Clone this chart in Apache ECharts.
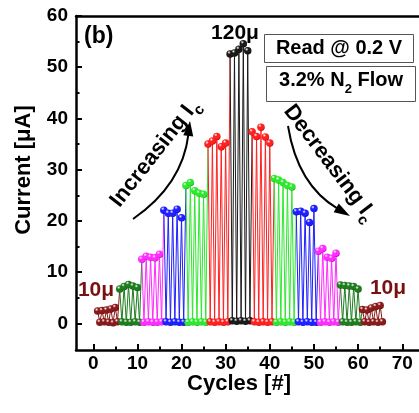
<!DOCTYPE html>
<html>
<head>
<meta charset="utf-8">
<script src="https://cdn.jsdelivr.net/npm/echarts@6/dist/echarts.min.js"></script>
<style>
  html, body { margin: 0; padding: 0; background: #fff; }
  #chart { width: 419px; height: 413px; }
</style>
</head>
<body>
<div id="chart"></div>
<script>
// Read current (uA) after SET (LRS) and after RESET (HRS), 5 cycles per compliance step
const groupColors = ['#8b1a1a', '#1e7d1e', '#ff2bff', '#1f1fff', '#2ee82e', '#ff2020', '#1a1a1a',
                     '#ff2020', '#2ee82e', '#1f1fff', '#ff2bff', '#1e7d1e', '#8b1a1a'];
const groupShades = ['#4a0505', '#0a400a', '#8a008a', '#000080', '#0a7a0a', '#900000', '#000000',
                     '#900000', '#0a7a0a', '#000080', '#8a008a', '#0a400a', '#4a0505'];

const lrs10uA_up   = [2.4, 2.5, 2.6, 2.8, 3.1];
const lrs20uA_up   = [6.7, 7.2, 7.6, 7.3, 7.0];
const lrs40uA_up   = [12.5, 13.1, 12.9, 12.8, 13.5];
const lrs60uA_up   = [22.1, 21.5, 21.5, 22.3, 20.6];
const lrs80uA_up   = [26.9, 27.5, 25.9, 25.4, 25.2];
const lrs100uA_up  = [35.0, 35.6, 36.5, 34.5, 35.2];
const lrs120uA     = [52.6, 52.8, 53.5, 54.6, 53.2];
const lrs100uA_dn  = [37.4, 36.5, 38.3, 36.4, 35.2];
const lrs80uA_dn   = [28.3, 28.0, 27.5, 26.9, 26.6];
const lrs60uA_dn   = [21.8, 21.9, 21.5, 19.7, 22.4];
const lrs40uA_dn   = [14.1, 14.6, 12.9, 12.7, 13.7];
const lrs20uA_dn   = [7.5, 7.4, 7.3, 7.2, 6.7];
const lrs10uA_dn   = [2.7, 2.6, 3.0, 3.3, 3.5];

const hrs10uA_up   = [0.2, 0.3, 0.2, 0.1, 0.3];
const hrs20uA_up   = [0.3, 0.2, 0.2, 0.3, 0.2];
const hrs40uA_up   = [0.2, 0.3, 0.2, 0.2, 0.3];
const hrs60uA_up   = [0.3, 0.2, 0.3, 0.2, 0.2];
const hrs80uA_up   = [0.2, 0.3, 0.2, 0.3, 0.2];
const hrs100uA_up  = [0.3, 0.2, 0.3, 0.2, 0.3];
const hrs120uA     = [0.5, 0.4, 0.5, 0.4, 0.5];
const hrs100uA_dn  = [0.3, 0.2, 0.3, 0.2, 0.3];
const hrs80uA_dn   = [0.2, 0.3, 0.2, 0.3, 0.2];
const hrs60uA_dn   = [0.3, 0.2, 0.3, 0.2, 0.2];
const hrs40uA_dn   = [0.2, 0.3, 0.2, 0.3, 0.2];
const hrs20uA_dn   = [0.3, 0.2, 0.2, 0.3, 0.2];
const hrs10uA_dn   = [0.3, 0.2, 0.3, 0.2, 0.3];

const lrsGroups = [lrs10uA_up, lrs20uA_up, lrs40uA_up, lrs60uA_up, lrs80uA_up, lrs100uA_up, lrs120uA,
                   lrs100uA_dn, lrs80uA_dn, lrs60uA_dn, lrs40uA_dn, lrs20uA_dn, lrs10uA_dn];
const hrsGroups = [hrs10uA_up, hrs20uA_up, hrs40uA_up, hrs60uA_up, hrs80uA_up, hrs100uA_up, hrs120uA,
                   hrs100uA_dn, hrs80uA_dn, hrs60uA_dn, hrs40uA_dn, hrs20uA_dn, hrs10uA_dn];
const cyclesPerGroup = 5;

const xTickValues = [0, 10, 20, 30, 40, 50, 60, 70];
const yTickValues = [0, 10, 20, 30, 40, 50, 60];

const FONT = "'Liberation Sans', Arial, sans-serif";

function ball(c, shade) {
  return {
    type: 'radial', x: 0.36, y: 0.3, r: 0.78,
    colorStops: [
      { offset: 0, color: '#ffffff' },
      { offset: 0.3, color: c },
      { offset: 0.75, color: c },
      { offset: 1, color: shade }
    ]
  };
}

// each group: LRS read then HRS read per cycle; the trace runs on to the next group's first LRS
const series = lrsGroups.map(function (lrs, k) {
  const data = [];
  lrs.forEach(function (v, i) {
    const cycle = k * cyclesPerGroup + i + 1;
    data.push([cycle, v]);
    data.push([cycle + 0.5, hrsGroups[k][i]]);
  });
  if (k < lrsGroups.length - 1) {
    data.push({ value: [(k + 1) * cyclesPerGroup + 1, lrsGroups[k + 1][0]], symbol: 'none' });
  }
  return {
    type: 'line',
    xAxisIndex: 0, yAxisIndex: 0,
    data: data,
    symbol: 'circle',
    symbolSize: 7.5,
    showSymbol: true,
    lineStyle: { width: 1, color: groupColors[k] },
    itemStyle: { color: ball(groupColors[k], groupShades[k]) },
    emphasis: { disabled: true },
    animation: false,
    z: 2 + k
  };
});

const chart = echarts.init(document.getElementById('chart'));

// curved arrows with filled heads
function arrow(p0, c, p2, headLen, headHalf) {
  const dx = p2[0] - c[0], dy = p2[1] - c[1];
  const len = Math.sqrt(dx * dx + dy * dy);
  const ux = dx / len, uy = dy / len;
  const bx = p2[0] - ux * headLen, by = p2[1] - uy * headLen;
  return [
    { type: 'bezierCurve', shape: { x1: p0[0], y1: p0[1], cpx1: c[0], cpy1: c[1], x2: bx + ux * 2, y2: by + uy * 2 },
      style: { stroke: '#000', lineWidth: 2, fill: null }, z: 50 },
    { type: 'polygon', shape: { points: [[p2[0], p2[1]], [bx - uy * headHalf, by + ux * headHalf], [bx + uy * headHalf, by - ux * headHalf]] },
      style: { fill: '#000' }, z: 50 }
  ];
}

function label(text, x, y, size, opts) {
  opts = opts || {};
  return {
    type: 'text', x: x, y: y, rotation: opts.rotation || 0, z: 60,
    style: {
      text: text, x: 0, y: 0,
      fontSize: size, fontWeight: 'bold', fontFamily: FONT,
      fill: opts.color || '#000',
      align: opts.align || 'center', textAlign: opts.align || 'center',
      verticalAlign: 'middle', textVerticalAlign: 'middle',
      rich: opts.rich
    }
  };
}

const subRich = function (main, sub) {
  return {
    m: { fontSize: main, fontWeight: 'bold', fontFamily: FONT, lineHeight: 32 },
    s: { fontSize: sub, fontWeight: 'bold', fontFamily: FONT, lineHeight: 12, verticalAlign: 'bottom' }
  };
};

const graphics = []
  .concat(arrow([133, 219], [182.5, 185], [190, 121], 15, 5))
  .concat(arrow([288, 126], [297.5, 185], [350, 216], 16, 5))
  .concat([
    label('(b)', 84, 37, 23, { align: 'left' }),
    label('120\u03bc', 235, 33, 21),
    label('10\u03bc', 96, 290, 21, { color: '#7a1010' }),
    label('10\u03bc', 388, 288, 21, { color: '#7a1010' }),
    { type: 'rect', shape: { x: 264.5, y: 34.5, width: 149, height: 28 }, style: { fill: null, stroke: '#555', lineWidth: 1 }, z: 55 },
    { type: 'rect', shape: { x: 266.5, y: 66.5, width: 149, height: 35 }, style: { fill: null, stroke: '#555', lineWidth: 1 }, z: 55 },
    label('Read @ 0.2 V', 339, 48.5, 20),
    label('{m|3.2% N}{s|2}{m| Flow}', 341, 80, 20, { rich: subRich(20, 13) }),
    label('{m|Increasing I}{s|c}', 155, 153, 22, { rotation: 52 * Math.PI / 180, rich: subRich(22, 15) }),
    label('{m|Decreasing I}{s|c}', 330, 163, 22, { rotation: -53 * Math.PI / 180, rich: subRich(22, 15) }),
    label('Cycles [#]', 239, 384, 22),
    label('Current [\u03bcA]', 24, 170, 22, { rotation: Math.PI / 2 })
  ]);

const frameLine = { show: true, onZero: false, lineStyle: { color: '#000', width: 2.5 } };
const tickStyle = { show: true, inside: true, length: 6, lineStyle: { color: '#000', width: 2 } };
const minorStyle = { show: true, splitNumber: 2, length: 3.5, lineStyle: { color: '#000', width: 2 } };
const tickFont = { fontSize: 19, fontWeight: 'bold', fontFamily: FONT, color: '#000' };

chart.setOption({
  backgroundColor: '#fff',
  animation: false,
  grid: [
    { left: 76, right: 0, top: 16, bottom: 63 },
    { left: 93.3, right: 16.7, top: 16, bottom: 89.7 }
  ],
  xAxis: [
    { type: 'value', gridIndex: 0, position: 'bottom', min: -3.9, max: 73.8, axisLine: frameLine,
      axisTick: { show: false }, axisLabel: { show: false }, splitLine: { show: false } },
    { type: 'value', gridIndex: 0, position: 'top', min: -3.9, max: 73.8, axisLine: frameLine,
      axisTick: { show: false }, axisLabel: { show: false }, splitLine: { show: false } },
    { type: 'value', gridIndex: 1, position: 'bottom', offset: 26.7,
      min: xTickValues[0], max: xTickValues[xTickValues.length - 1], interval: xTickValues[1] - xTickValues[0],
      axisLine: { show: false, onZero: false }, axisTick: tickStyle, minorTick: minorStyle,
      axisLabel: Object.assign({ margin: 4 }, tickFont), splitLine: { show: false } }
  ],
  yAxis: [
    { type: 'value', gridIndex: 0, position: 'left', min: -5.2, max: 60, axisLine: frameLine,
      axisTick: { show: false }, axisLabel: { show: false }, splitLine: { show: false } },
    { type: 'value', gridIndex: 1, position: 'left', offset: 17.3,
      min: yTickValues[0], max: yTickValues[yTickValues.length - 1], interval: yTickValues[1] - yTickValues[0],
      axisLine: { show: false, onZero: false }, axisTick: tickStyle, minorTick: minorStyle,
      axisLabel: Object.assign({ margin: 8 }, tickFont), splitLine: { show: false } }
  ],
  series: series,
  graphic: graphics
});
</script>
</body>
</html>
